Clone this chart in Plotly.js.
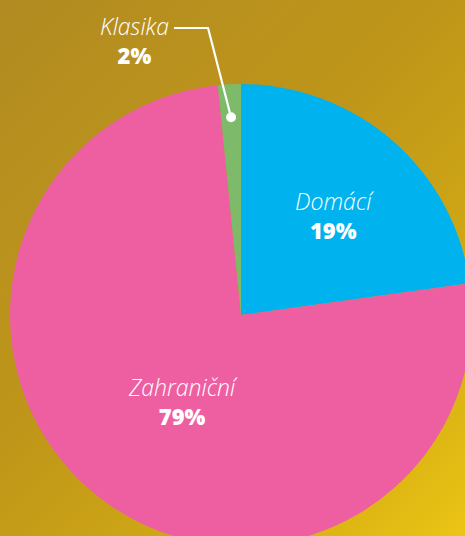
<!DOCTYPE html>
<html>
<head>
<meta charset="utf-8">
<script src="https://cdn.plot.ly/plotly-3.0.1.min.js"></script>
<style>
  html, body { margin:0; padding:0; width:465px; height:536px; overflow:hidden;
    background: linear-gradient(135deg, #B18B22 0%, #BF9619 45%, #D2AA14 75%, #EBC414 100%); }
  #chart { position:absolute; left:0; top:0; }
</style>
</head>
<body>
<div id="chart"></div>
<script>
// Segment names, percentages printed on the chart, and the slice shares as drawn
const categories = ["Domácí", "Zahraniční", "Klasika"];
const labelPercents = ["19%", "79%", "2%"];
const sliceShares = [22.8, 75.6, 1.6];
const sliceColors = ["#00B3EE", "#EE5FA2", "#7DBB6B"];

// geometry (px)
const W = 482, H = 556, ML = 10, MR = 10, MT = 84, MB = 10;
const PW = W - ML - MR, PH = H - MT - MB;
const cx = ML + PW / 2, cy = MT + PH / 2, R = Math.min(PW, PH) / 2;
const px = x => (x - ML) / PW;
const py = y => 1 - (y - MT) / PH;

// mid angles (deg clockwise from 12 o'clock)
const total = sliceShares.reduce((a, b) => a + b, 0);
let acc = 0;
const mids = sliceShares.map(v => { const m = (acc + v / 2) / total * 360; acc += v; return m; });
const polar = (angDeg, rf) => {
  const a = angDeg * Math.PI / 180;
  return [cx + Math.sin(a) * R * rf, cy - Math.cos(a) * R * rf];
};

const labelFont = { family: "Open Sans, Segoe UI, sans-serif", size: 22, color: "#ffffff" };

const annotations = [];
function addLabel(i, x, y) {
  annotations.push({
    xref: "paper", yref: "paper", x: px(x), y: py(y), showarrow: false,
    xanchor: "center", yanchor: "middle", align: "center", font: labelFont,
    text: `<span style="font-style:italic;font-weight:300;font-size:23px">${categories[i]}</span><br>` +
          `<span style="font-weight:800">${labelPercents[i]}</span>`
  });
}
const [dx, dy] = polar(mids[0] + 2, 0.595); addLabel(0, dx, dy);
const [zx, zy] = polar(mids[1] - 4, 0.45); addLabel(1, zx, zy);

// Klasika: leader from the slice to an outside label
const [kx, ky] = polar(mids[2], 0.857);
const elbowX = kx - 23, elbowY = MT - 56;
const kLabelX = elbowX - 74, kLabelY = elbowY + 12;
addLabel(2, kLabelX, kLabelY);

const shapes = [
  { type: "path", xref: "paper", yref: "paper",
    path: `M ${px(elbowX - 34)},${py(elbowY)} L ${px(elbowX)},${py(elbowY)} L ${px(kx)},${py(ky)}`,
    line: { color: "#ffffff", width: 2.2 } },
  { type: "circle", xref: "paper", yref: "paper", xsizemode: "pixel", ysizemode: "pixel",
    xanchor: px(kx), yanchor: py(ky), x0: -5, x1: 5, y0: -5, y1: 5,
    fillcolor: "#ffffff", line: { width: 0 } }
];

const data = [{
  type: "pie",
  labels: categories,
  values: sliceShares,
  sort: false,
  direction: "clockwise",
  rotation: 0,
  marker: { colors: sliceColors, line: { width: 0 } },
  textinfo: "none",
  hoverinfo: "skip",
  domain: { x: [0, 1], y: [0, 1] }
}];

const layout = {
  width: W, height: H,
  margin: { l: ML, r: MR, t: MT, b: MB, pad: 0 },
  paper_bgcolor: "rgba(0,0,0,0)",
  plot_bgcolor: "rgba(0,0,0,0)",
  showlegend: false,
  annotations: annotations,
  shapes: shapes
};

Plotly.newPlot("chart", data, layout, { displayModeBar: false, staticPlot: true });
</script>
</body>
</html>
